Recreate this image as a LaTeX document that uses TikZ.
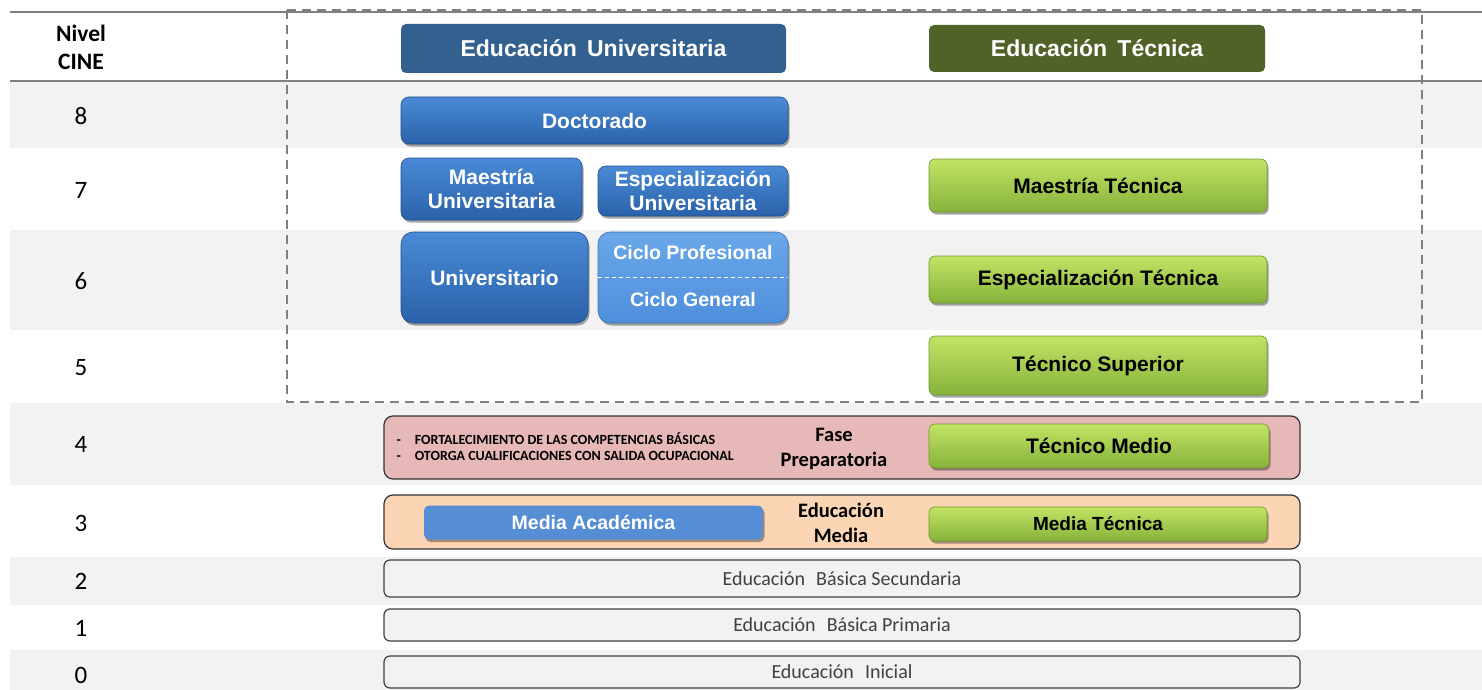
\documentclass[tikz,border=0pt]{standalone}
\usepackage{fontspec}
\setmainfont{Liberation Sans}
\newfontfamily\carl{Carlito}
\usetikzlibrary{shadows}
\definecolor{bandgray}{HTML}{F2F2F2}
\definecolor{linegray}{HTML}{808080}
\definecolor{hdrblue}{HTML}{33618F}
\definecolor{hdrgreen}{HTML}{4F6228}
\definecolor{bluetop}{HTML}{4A8AD6}
\definecolor{bluebot}{HTML}{2A62AA}
\definecolor{lbluetop}{HTML}{6AA8EA}
\definecolor{lbluebot}{HTML}{4F8EDB}
\definecolor{acad}{HTML}{558ED5}
\definecolor{greentop}{HTML}{C2E465}
\definecolor{greenbot}{HTML}{86B23A}
\definecolor{pinkfill}{HTML}{E6B8B7}
\definecolor{peachfill}{HTML}{FCD5B4}
\definecolor{txtgray}{HTML}{404040}
\tikzset{
  x={(1pt,0)}, y={(0,-1pt)},
  boxshadow/.style={drop shadow={shadow xshift=1.5pt, shadow yshift=-2.5pt, opacity=0.35, fill=black}},
  hdr/.style={rounded corners=5pt, text=white, font=\bfseries\fontsize{23}{26}\selectfont, inner sep=0pt, align=center},
  bluebox/.style={rounded corners=8pt, top color=bluetop, bottom color=bluebot, draw=bluebot!80!black, line width=0.6pt, boxshadow, text=white, font=\bfseries\fontsize{21}{24}\selectfont, align=center, inner sep=0pt},
  greenbox/.style={rounded corners=6pt, top color=greentop, bottom color=greenbot, draw=greenbot!85!black, line width=0.6pt, boxshadow, text=black, font=\bfseries\fontsize{21}{24}\selectfont, align=center, inner sep=0pt},
  stagebox/.style={rounded corners=9pt, draw=black!80, line width=1.2pt, inner sep=0pt},
  basebox/.style={rounded corners=6pt, draw=black!75, fill=bandgray, line width=1.2pt, inner sep=0pt, text=txtgray, font=\carl\fontsize{20}{22}\selectfont},
  lvl/.style={font=\carl\fontsize{25}{27}\selectfont, text=black},
  carlbold/.style={font=\carl\bfseries\fontsize{20.5}{25.5}\selectfont, align=center, text=black},
  smallwhite/.style={text=white, font=\bfseries\fontsize{19.5}{22}\selectfont},
}
\begin{document}
\begin{tikzpicture}
\useasboundingbox (0,0) rectangle (1482,690);
% row bands
\fill[bandgray] (10,82) rectangle (1482,148);
\fill[bandgray] (10,230) rectangle (1482,330);
\fill[bandgray] (10,403) rectangle (1482,485);
\fill[bandgray] (10,557) rectangle (1482,605);
\fill[bandgray] (10,650) rectangle (1482,690);
% horizontal rules
\draw[linegray, line width=2pt] (10,12) -- (1482,12);
\draw[linegray, line width=2pt] (10,81) -- (1482,81);
% dashed frame
\draw[linegray, line width=2.5pt, dash pattern=on 9pt off 6pt] (287,10) rectangle (1422,402);

% level column
\node[font=\carl\bfseries\fontsize{23.5}{28}\selectfont, align=center] (hdrlvl) at (81,47) {Nivel\\CINE};
\node[lvl] (l8) at (81,116) {8};
\node[lvl] (l7) at (81,190) {7};
\node[lvl] (l6) at (81,281) {6};
\node[lvl] (l5) at (81,368) {5};
\node[lvl] (l4) at (81,444) {4};
\node[lvl] (l3) at (81,523) {3};
\node[lvl] (l2) at (81,581) {2};
\node[lvl] (l1) at (81,628) {1};
\node[lvl] (l0) at (81,675) {0};

% headers
\node[hdr, fill=hdrblue, minimum width=385pt, minimum height=49pt] (hu) at (593.5,48.5) {Educación\, Universitaria};
\node[hdr, fill=hdrgreen, minimum width=336pt, minimum height=47pt] (ht) at (1097,48.5) {Educación\, Técnica};

% university boxes
\node[bluebox, minimum width=387pt, minimum height=47pt] (doc) at (594.5,120.5) {Doctorado};
\node[bluebox, minimum width=181pt, minimum height=62pt] (mu) at (491.5,189) {Maestría\\Universitaria};
\node[bluebox, minimum width=190pt, minimum height=50pt] (eu) at (693,191) {Especialización\\Universitaria};
\node[bluebox, rounded corners=12pt, minimum width=187pt, minimum height=91pt] (uni) at (494.5,277.5) {Universitario};
\node[bluebox, rounded corners=12pt, top color=lbluetop, bottom color=lbluebot, draw=lbluebot!80!black, minimum width=190pt, minimum height=91pt] (ciclo) at (693,277.5) {};
\node[smallwhite] (cp) at (693,253) {Ciclo Profesional};
\node[smallwhite] (cg) at (693,300) {Ciclo General};
\draw[white, line width=1pt, dash pattern=on 4pt off 3pt] (ciclo.west) -- (ciclo.east);

% technical boxes
\node[greenbox, minimum width=338pt, minimum height=53pt] (mt) at (1098,185.5) {Maestría Técnica};
\node[greenbox, minimum width=338pt, minimum height=47pt] (et) at (1098,279.5) {Especialización Técnica};
\node[greenbox, minimum width=338pt, minimum height=59pt] (ts) at (1098,365.5) {Técnico Superior};

% level 4
\node[stagebox, fill=pinkfill, minimum width=916pt, minimum height=63pt] (fase) at (842,447.5) {};
\node[font=\carl\bfseries\fontsize{14}{16}\selectfont, anchor=west, align=left] (bul) at (393,447) {-\hspace{14pt}FORTALECIMIENTO DE LAS COMPETENCIAS BÁSICAS\\-\hspace{14pt}OTORGA CUALIFICACIONES CON SALIDA OCUPACIONAL};
\node[carlbold] (fp) at (834,449) {Fase\\Preparatoria};
\node[greenbox, minimum width=340pt, minimum height=44pt] (tm) at (1099,446) {Técnico Medio};

% level 3
\node[stagebox, fill=peachfill, minimum width=916pt, minimum height=54pt] (media) at (842,522) {};
\node[rounded corners=5pt, fill=acad, boxshadow, minimum width=339pt, minimum height=34pt, inner sep=0pt, text=white, font=\bfseries\fontsize{19.5}{22}\selectfont] (ma) at (593.5,522.5) {Media Académica};
\node[carlbold] (em) at (841,523) {Educación\\Media};
\node[greenbox, rounded corners=5pt, minimum width=338pt, minimum height=34pt, font=\bfseries\fontsize{19}{22}\selectfont] (mtec) at (1098,524) {Media Técnica};

% levels 2-0
\node[basebox, minimum width=916pt, minimum height=37pt] (sec) at (842,578.5) {Educación\,\, Básica Secundaria};
\node[basebox, minimum width=916pt, minimum height=32pt] (pri) at (842,625) {Educación\,\, Básica Primaria};
\node[basebox, minimum width=916pt, minimum height=32pt] (ini) at (842,672) {Educación\,\, Inicial};
\end{tikzpicture}
\end{document}
